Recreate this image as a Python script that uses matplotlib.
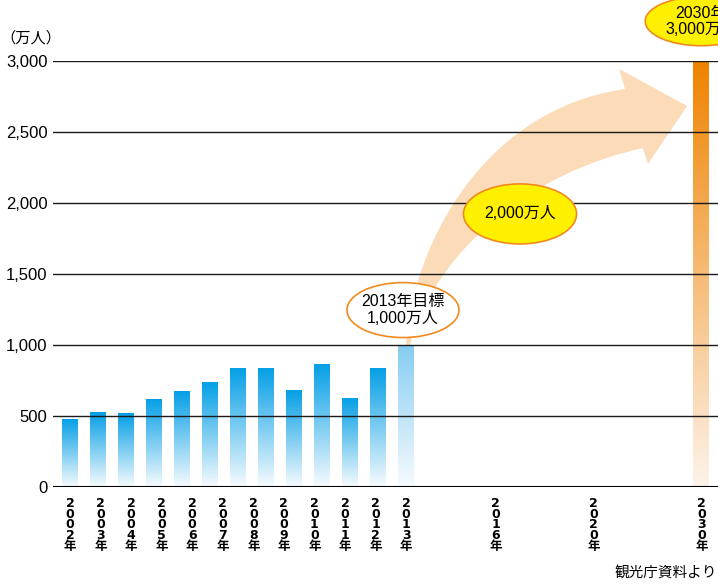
import numpy as np
import matplotlib
matplotlib.use('Agg')
import matplotlib.pyplot as plt
from matplotlib.colors import LinearSegmentedColormap
from matplotlib.patches import Ellipse, Polygon

plt.rcParams['font.family'] = ['Liberation Sans', 'Noto Sans CJK JP']

# data
years = ['2002', '2003', '2004', '2005', '2006', '2007', '2008', '2009',
         '2010', '2011', '2012', '2013', '2016', '2020', '2030']
visitors = [477, 524, 521, 614, 673, 733, 835, 835, 679, 861, 622, 836]
target_2013 = 1000
target_2030 = 3000
# slots on the x axis (the original chart is not to scale)
bar_slots = list(range(13))
slot_2030 = 22.55
label_slots = list(np.linspace(0, 12, 12)) + [15.2, 18.7, slot_2030]
y_ticks = [0, 500, 1000, 1500, 2000, 2500, 3000]

fig = plt.figure(figsize=(7.18, 5.88), dpi=100)
ax = fig.add_axes([53 / 718, 1 - 487 / 588, 1 - 53 / 718, (487 - 61) / 588])

xlim = (-0.607, 23.14)
ylim = (0, 3000)
width = 0.57


def gradient_bar(x, h, top_color, bottom_color='#f7fbfe'):
    bar = ax.bar(x, h, width, color='none', zorder=2)[0]
    cmap = LinearSegmentedColormap.from_list('g', [bottom_color, top_color])
    grad = np.linspace(0, 1, 256).reshape(-1, 1)
    ax.imshow(grad, extent=[bar.get_x(), bar.get_x() + bar.get_width(), 0, bar.get_height()],
              origin='lower', aspect='auto', cmap=cmap, zorder=2)


for x, v in zip(bar_slots, visitors):
    gradient_bar(x, v, '#059fe6')
gradient_bar(bar_slots[12], target_2013, '#86cdf2')
gradient_bar(slot_2030, target_2030, '#ef8300', bottom_color='#fdf3ea')

# big curved arrow from the 2013 target towards 2030
def bezier(p0, p1, p2, p3, n=60):
    t = np.linspace(0, 1, n)[:, None]
    p0, p1, p2, p3 = map(np.array, (p0, p1, p2, p3))
    return (1 - t) ** 3 * p0 + 3 * (1 - t) ** 2 * t * p1 + 3 * (1 - t) * t ** 2 * p2 + t ** 3 * p3

outer = bezier((12.0, 1000), (12.21, 1669), (14.64, 2655), (19.82, 2803))
inner = bezier((12.14, 1000), (12.68, 1458), (15.36, 2162), (20.46, 2387))
head = np.array([(19.61, 2944), (22.04, 2683), (20.64, 2275)])
arrow_pts = np.vstack([outer, head, inner[::-1]])
ax.add_patch(Polygon(arrow_pts, closed=True, facecolor='#fbdbb8', edgecolor='none', zorder=1))

# grid lines
for yv in y_ticks[1:]:
    ax.axhline(yv, color='#1a1a1a', lw=1.0, zorder=3)
ax.axhline(0, color='black', lw=1.5, zorder=3)

# bubbles
orange = '#f08a1e'
ax.add_patch(Ellipse((11.89, 1246), 4.0, 387, facecolor='white', edgecolor=orange, lw=1.2, zorder=5))
ax.text(11.89, 1246, '2013年目標\n1,000万人', ha='center', va='center', fontsize=11.5,
        linespacing=1.1, zorder=6)
ax.add_patch(Ellipse((16.07, 1923), 4.04, 423, facecolor='#fff000', edgecolor=orange, lw=1.2, zorder=5))
ax.text(16.07, 1923, '2,000万人', ha='center', va='center', fontsize=11.5, zorder=6)
ax.add_patch(Ellipse((22.54, 3280), 4.0, 345, facecolor='#fff000', edgecolor=orange, lw=1.2,
                     zorder=5, clip_on=False))
ax.text(22.54, 3280, '2030年\n3,000万人', ha='center', va='center', fontsize=11.5,
        linespacing=1.1, zorder=6, clip_on=False)

ax.set_xlim(*xlim)
ax.set_ylim(*ylim)
for s in ax.spines.values():
    s.set_visible(False)

ax.set_yticks(y_ticks)
ax.set_yticklabels([f'{v:,}' for v in y_ticks], fontsize=12)
ax.tick_params(axis='y', length=0, pad=4)

ax.set_xticks(label_slots)
ax.set_xticklabels(['\n'.join(list(y) + ['年']) for y in years], fontsize=9,
                   fontweight='bold', family=['DejaVu Sans', 'Noto Sans CJK JP'])
ax.tick_params(axis='x', length=0, pad=7)
for lbl in ax.get_xticklabels():
    lbl.set_linespacing(0.78)

fig.text(0.0, 1 - 38 / 588, '（万人）', ha='left', va='center', fontsize=11)
fig.text(0.999, 1 - 573 / 588, '観光庁資料より', ha='right', va='center', fontsize=10.5)

fig.savefig('out.png', dpi=100)
